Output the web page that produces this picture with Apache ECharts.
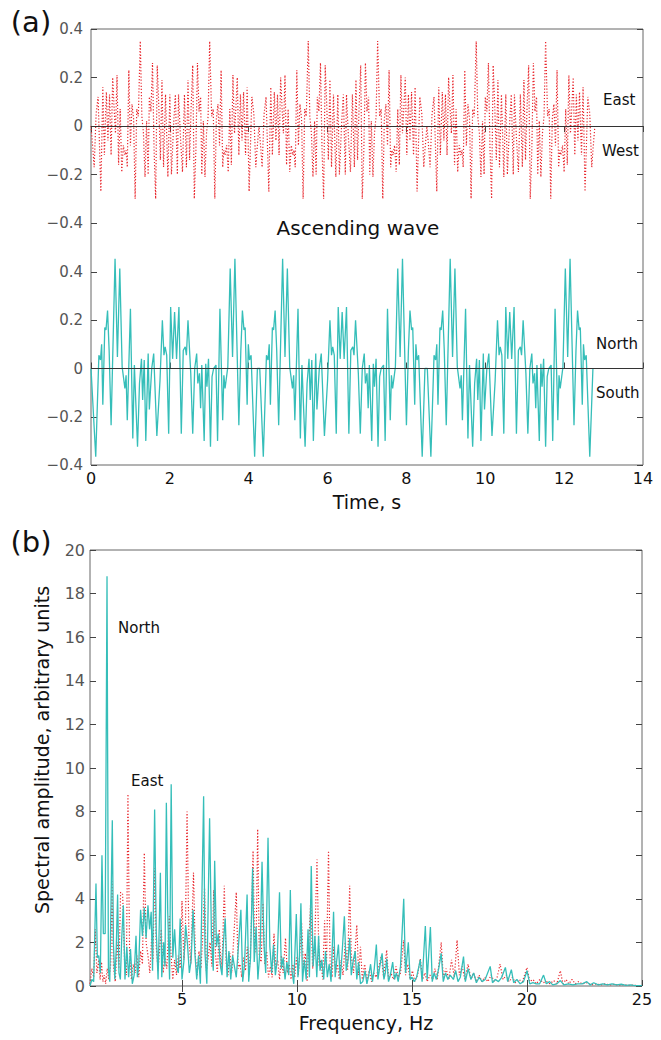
<!DOCTYPE html>
<html>
<head>
<meta charset="utf-8">
<script src="https://cdn.jsdelivr.net/npm/echarts@6/dist/echarts.min.js"></script>
<style>html,body{margin:0;padding:0;background:#fff}#chart{width:661px;height:1040px}</style>
</head>
<body>
<div id="chart"></div>
<script>
// ---------- DATA ----------
// (a) East–West component, time (s) vs value
const eastWestWave = [
[0,0],[0.05,-0.10],[0.08,-0.17],[0.13,0.05],[0.18,0.12],[0.21,-0.05],[0.25,-0.27],[0.30,0.16],[0.34,-0.12],[0.39,0.14],[0.43,-0.06],[0.47,0.13],[0.51,-0.12],[0.55,0.20],[0.59,0.06],[0.62,-0.03],[0.66,0.21],[0.70,-0.16],[0.74,0.07],[0.78,-0.19],[0.82,-0.08],[0.86,-0.12],[0.89,-0.10],[0.92,-0.17],[0.96,0.23],[1.00,-0.08],[1.04,0.09],[1.08,0.03],[1.12,-0.30],[1.16,0.07],[1.20,0.04],[1.25,0.35],[1.29,0.04],[1.33,-0.03],[1.37,-0.21],[1.41,0.02],[1.45,-0.20],[1.48,0.12],[1.52,0.06],[1.56,0.26],[1.60,-0.10],[1.64,-0.30],[1.68,0.25],[1.72,0.08],[1.76,-0.14],[1.80,0.19],[1.84,-0.17],[1.89,0.13],[1.95,-0.21],[2.00,0.13],[2.04,-0.20],[2.10,0.02],[2.14,0.13],[2.19,-0.20],[2.22,0.13],[2.27,-0.05],[2.32,-0.19],[2.37,0.13],[2.42,-0.17],[2.46,0.19],[2.50,-0.14],[2.54,0.08],[2.58,0.25],[2.62,-0.30],[2.66,-0.10],[2.70,0.26],[2.74,0.06],[2.78,0.12],[2.81,-0.20],[2.85,0.02],[2.89,-0.21],[2.93,-0.03],[2.97,0.04],[3.01,0.35],[3.06,0.04],[3.10,0.07],[3.14,-0.30],[3.18,0.03],[3.22,0.09],[3.26,-0.08],[3.30,0.23],[3.34,-0.17],[3.37,-0.10],[3.40,-0.12],[3.44,-0.08],[3.48,-0.19],[3.52,0.07],[3.56,-0.16],[3.60,0.21],[3.64,-0.03],[3.67,0.06],[3.71,0.20],[3.75,-0.12],[3.79,0.13],[3.83,-0.06],[3.87,0.14],[3.92,-0.12],[3.96,0.16],[4.01,-0.27],[4.05,-0.05],[4.08,0.12],[4.13,0.05],[4.18,-0.17],[4.21,-0.10],[4.26,0],
[4.31,-0.10],[4.34,-0.17],[4.39,0.05],[4.44,0.12],[4.47,-0.05],[4.51,-0.27],[4.56,0.16],[4.60,-0.12],[4.65,0.14],[4.69,-0.06],[4.73,0.13],[4.77,-0.12],[4.81,0.20],[4.85,0.06],[4.88,-0.03],[4.92,0.21],[4.96,-0.16],[5.00,0.07],[5.04,-0.19],[5.08,-0.08],[5.12,-0.12],[5.15,-0.10],[5.18,-0.17],[5.22,0.23],[5.26,-0.08],[5.30,0.09],[5.34,0.03],[5.38,-0.30],[5.42,0.07],[5.46,0.04],[5.51,0.35],[5.55,0.04],[5.59,-0.03],[5.63,-0.21],[5.67,0.02],[5.71,-0.20],[5.74,0.12],[5.78,0.06],[5.82,0.26],[5.86,-0.10],[5.90,-0.30],[5.94,0.25],[5.98,0.08],[6.02,-0.14],[6.06,0.19],[6.10,-0.17],[6.15,0.13],[6.21,-0.21],[6.26,0.13],[6.30,-0.20],[6.36,0.02],[6.40,0.13],[6.45,-0.20],[6.48,0.13],[6.53,-0.05],[6.58,-0.19],[6.63,0.13],[6.68,-0.17],[6.72,0.19],[6.76,-0.14],[6.80,0.08],[6.84,0.25],[6.88,-0.30],[6.92,-0.10],[6.96,0.26],[7.00,0.06],[7.04,0.12],[7.07,-0.20],[7.11,0.02],[7.15,-0.21],[7.19,-0.03],[7.23,0.04],[7.27,0.35],[7.32,0.04],[7.36,0.07],[7.40,-0.30],[7.44,0.03],[7.48,0.09],[7.52,-0.08],[7.56,0.23],[7.60,-0.17],[7.63,-0.10],[7.66,-0.12],[7.70,-0.08],[7.74,-0.19],[7.78,0.07],[7.82,-0.16],[7.86,0.21],[7.90,-0.03],[7.93,0.06],[7.97,0.20],[8.01,-0.12],[8.05,0.13],[8.09,-0.06],[8.13,0.14],[8.18,-0.12],[8.22,0.16],[8.27,-0.27],[8.31,-0.05],[8.34,0.12],[8.39,0.05],[8.44,-0.17],[8.47,-0.10],[8.52,0],
[8.57,-0.10],[8.60,-0.17],[8.65,0.05],[8.70,0.12],[8.73,-0.05],[8.77,-0.27],[8.82,0.16],[8.86,-0.12],[8.91,0.14],[8.95,-0.06],[8.99,0.13],[9.03,-0.12],[9.07,0.20],[9.11,0.06],[9.14,-0.03],[9.18,0.21],[9.22,-0.16],[9.26,0.07],[9.30,-0.19],[9.34,-0.08],[9.38,-0.12],[9.41,-0.10],[9.44,-0.17],[9.48,0.23],[9.52,-0.08],[9.56,0.09],[9.60,0.03],[9.64,-0.30],[9.68,0.07],[9.72,0.04],[9.77,0.35],[9.81,0.04],[9.85,-0.03],[9.89,-0.21],[9.93,0.02],[9.97,-0.20],[10.00,0.12],[10.04,0.06],[10.08,0.26],[10.12,-0.10],[10.16,-0.30],[10.20,0.25],[10.24,0.08],[10.28,-0.14],[10.32,0.19],[10.36,-0.17],[10.41,0.13],[10.47,-0.21],[10.52,0.13],[10.56,-0.20],[10.62,0.02],[10.66,0.13],[10.71,-0.20],[10.74,0.13],[10.79,-0.05],[10.84,-0.19],[10.89,0.13],[10.94,-0.17],[10.98,0.19],[11.02,-0.14],[11.06,0.08],[11.10,0.25],[11.14,-0.30],[11.18,-0.10],[11.22,0.26],[11.26,0.06],[11.30,0.12],[11.33,-0.20],[11.37,0.02],[11.41,-0.21],[11.45,-0.03],[11.49,0.04],[11.53,0.35],[11.58,0.04],[11.62,0.07],[11.66,-0.30],[11.70,0.03],[11.74,0.09],[11.78,-0.08],[11.82,0.23],[11.86,-0.17],[11.89,-0.10],[11.92,-0.12],[11.96,-0.08],[12.00,-0.19],[12.04,0.07],[12.08,-0.16],[12.12,0.21],[12.16,-0.03],[12.19,0.06],[12.23,0.20],[12.27,-0.12],[12.31,0.13],[12.35,-0.06],[12.39,0.14],[12.44,-0.12],[12.48,0.16],[12.53,-0.27],[12.57,-0.05],[12.60,0.12],[12.65,0.05],[12.70,-0.17],[12.73,-0.10],[12.78,0]
];

// (a) North–South component, time (s) vs value
const northSouthWave = [
[0,0],[0.12,-0.366],[0.2,0.055],[0.24,0.035],[0.27,0.1],[0.3,-0.15],[0.35,0.17],[0.38,0.16],[0.42,0.24],[0.46,0.075],[0.51,-0.235],[0.61,0.455],[0.67,0.048],[0.73,0.414],[0.79,0.007],[0.86,-0.083],[0.89,-0.028],[0.92,-0.214],[1.0,0.248],[1.06,-0.29],[1.1,0.014],[1.18,-0.324],[1.23,-0.062],[1.28,0.04],[1.31,-0.13],[1.35,0.035],[1.39,-0.3],[1.45,0.062],[1.48,-0.17],[1.54,0],[1.59,0.062],[1.67,-0.28],[1.75,-0.05],[1.81,0.2],[1.85,0.055],[1.88,0.09],[1.92,0.055],[1.97,-0.27],[2.02,0.255],[2.07,0.04],[2.12,0.234],[2.17,0.04],[2.23,0.255],[2.29,-0.27],[2.34,0.075],[2.39,0.09],[2.42,0.055],[2.46,0.2],[2.53,-0.02],[2.58,-0.27],[2.63,0],[2.68,0.062],[2.71,-0.062],[2.75,-0.02],[2.78,-0.165],[2.81,0.014],[2.87,-0.3],[2.91,0.02],[2.94,-0.076],[2.98,0.04],[3.03,-0.324],[3.07,-0.034],[3.11,0],[3.17,0.014],[3.21,-0.3],[3.27,0.248],[3.34,-0.214],[3.37,-0.028],[3.4,-0.083],[3.47,0.007],[3.53,0.414],[3.59,0.048],[3.65,0.455],[3.75,-0.235],[3.8,0.075],[3.84,0.24],[3.88,0.16],[3.91,0.17],[3.96,-0.15],[3.99,0.1],[4.02,0.035],[4.06,0.055],[4.15,-0.366],[4.22,0],[4.28,0],
[4.37,-0.366],[4.45,0.055],[4.49,0.035],[4.52,0.1],[4.55,-0.15],[4.6,0.17],[4.63,0.16],[4.67,0.24],[4.71,0.075],[4.76,-0.235],[4.86,0.455],[4.92,0.048],[4.98,0.414],[5.04,0.007],[5.11,-0.083],[5.14,-0.028],[5.17,-0.214],[5.25,0.248],[5.31,-0.29],[5.35,0.014],[5.43,-0.324],[5.48,-0.062],[5.53,0.04],[5.56,-0.13],[5.6,0.035],[5.64,-0.3],[5.7,0.062],[5.73,-0.17],[5.79,0],[5.84,0.062],[5.92,-0.28],[6.0,-0.05],[6.06,0.2],[6.1,0.055],[6.13,0.09],[6.17,0.055],[6.22,-0.27],[6.27,0.255],[6.32,0.04],[6.37,0.234],[6.42,0.04],[6.48,0.255],[6.54,-0.27],[6.59,0.075],[6.64,0.09],[6.67,0.055],[6.71,0.2],[6.78,-0.02],[6.83,-0.27],[6.88,0],[6.93,0.062],[6.96,-0.062],[7.0,-0.02],[7.03,-0.165],[7.06,0.014],[7.12,-0.3],[7.16,0.02],[7.19,-0.076],[7.23,0.04],[7.28,-0.324],[7.32,-0.034],[7.36,0],[7.42,0.014],[7.46,-0.3],[7.52,0.248],[7.59,-0.214],[7.62,-0.028],[7.65,-0.083],[7.72,0.007],[7.78,0.414],[7.84,0.048],[7.9,0.455],[8.0,-0.235],[8.05,0.075],[8.09,0.24],[8.13,0.16],[8.16,0.17],[8.21,-0.15],[8.24,0.1],[8.27,0.035],[8.31,0.055],[8.4,-0.366],[8.47,0],[8.53,0],
[8.62,-0.366],[8.7,0.055],[8.74,0.035],[8.77,0.1],[8.8,-0.15],[8.85,0.17],[8.88,0.16],[8.92,0.24],[8.96,0.075],[9.01,-0.235],[9.11,0.455],[9.17,0.048],[9.23,0.414],[9.29,0.007],[9.36,-0.083],[9.39,-0.028],[9.42,-0.214],[9.5,0.248],[9.56,-0.29],[9.6,0.014],[9.68,-0.324],[9.73,-0.062],[9.78,0.04],[9.81,-0.13],[9.85,0.035],[9.89,-0.3],[9.95,0.062],[9.98,-0.17],[10.04,0],[10.09,0.062],[10.17,-0.28],[10.25,-0.05],[10.31,0.2],[10.35,0.055],[10.38,0.09],[10.42,0.055],[10.47,-0.27],[10.52,0.255],[10.57,0.04],[10.62,0.234],[10.67,0.04],[10.73,0.255],[10.79,-0.27],[10.84,0.075],[10.89,0.09],[10.92,0.055],[10.96,0.2],[11.03,-0.02],[11.08,-0.27],[11.13,0],[11.18,0.062],[11.21,-0.062],[11.25,-0.02],[11.28,-0.165],[11.31,0.014],[11.37,-0.3],[11.41,0.02],[11.44,-0.076],[11.48,0.04],[11.53,-0.324],[11.57,-0.034],[11.61,0],[11.67,0.014],[11.71,-0.3],[11.77,0.248],[11.84,-0.214],[11.87,-0.028],[11.9,-0.083],[11.97,0.007],[12.03,0.414],[12.09,0.048],[12.15,0.455],[12.25,-0.235],[12.3,0.075],[12.34,0.24],[12.38,0.16],[12.41,0.17],[12.46,-0.15],[12.49,0.1],[12.52,0.035],[12.56,0.055],[12.65,-0.366],[12.73,0]
];

// (b) East spectrum, frequency (Hz) vs amplitude
const eastSpectrum = [
[1.0,0.1],[1.08,0.8],[1.16,0.4],[1.23,2.6],[1.3,0.6],[1.38,1.2],[1.44,0.3],[1.5,1.1],[1.56,0.2],[1.62,0.5],[1.68,0.1],[1.75,0.8],[1.82,0.3],[1.9,1.0],[1.96,4.8],[2.02,0.9],[2.1,0.2],[2.18,2.0],[2.26,0.8],[2.33,4.3],[2.42,4.2],[2.5,1.2],[2.58,0.5],[2.65,8.8],[2.72,1.6],[2.8,0.3],[2.88,1.0],[2.96,0.6],[3.04,1.4],[3.12,0.4],[3.2,1.6],[3.28,1.0],[3.36,6.1],[3.44,2.0],[3.52,1.4],[3.6,0.6],[3.68,2.2],[3.74,1.2],[3.81,5.4],[3.88,1.8],[3.96,0.7],[4.04,1.9],[4.1,2.6],[4.18,0.6],[4.26,1.3],[4.34,0.8],[4.45,3.2],[4.52,1.5],[4.6,0.3],[4.68,1.2],[4.76,0.5],[4.84,1.4],[4.92,0.8],[5.0,3.9],[5.08,1.2],[5.14,2.0],[5.22,8.0],[5.3,2.2],[5.38,1.0],[5.5,5.2],[5.58,1.4],[5.66,0.5],[5.74,1.6],[5.82,0.8],[5.9,2.2],[5.98,4.5],[6.06,0.7],[6.14,1.3],[6.22,2.0],[6.3,0.9],[6.38,4.4],[6.46,1.4],[6.54,0.6],[6.62,2.6],[6.7,0.8],[6.76,1.6],[6.84,4.6],[6.92,1.0],[7.0,0.5],[7.08,1.5],[7.16,0.6],[7.24,2.0],[7.36,4.3],[7.44,0.8],[7.52,1.0],[7.6,0.4],[7.68,1.3],[7.76,0.7],[7.84,1.8],[7.92,0.5],[8.0,2.2],[8.09,6.2],[8.16,1.5],[8.22,1.8],[8.29,7.2],[8.36,1.4],[8.44,1.1],[8.52,3.8],[8.6,1.0],[8.68,1.6],[8.76,0.4],[8.84,0.9],[8.92,0.4],[9.0,2.4],[9.08,0.8],[9.16,1.2],[9.24,0.3],[9.32,1.4],[9.4,0.6],[9.5,2.2],[9.58,0.6],[9.66,1.0],[9.74,0.3],[9.82,1.0],[9.9,0.4],[9.98,1.3],[10.06,0.5],[10.2,2.9],[10.28,0.8],[10.36,1.5],[10.44,0.2],[10.6,4.0],[10.68,0.8],[10.76,1.6],[10.87,5.8],[10.96,0.9],[11.04,1.2],[11.12,0.3],[11.2,3.0],[11.28,0.8],[11.37,6.2],[11.44,1.0],[11.52,0.4],[11.6,1.8],[11.68,0.6],[11.76,1.0],[11.84,0.3],[11.92,1.2],[12.0,0.5],[12.1,2.0],[12.2,0.7],[12.29,4.6],[12.36,1.4],[12.46,0.6],[12.6,2.8],[12.68,0.5],[12.76,1.8],[12.84,0.3],[12.94,1.0],[13.04,0.3],[13.14,0.7],[13.24,0.2],[13.34,0.6],[13.44,0.4],[13.54,0.8],[13.67,1.4],[13.76,0.4],[13.9,1.65],[13.98,0.3],[14.08,0.6],[14.2,0.3],[14.3,0.9],[14.4,0.4],[14.5,0.6],[14.64,2.1],[14.72,0.5],[14.82,1.0],[14.92,0.3],[15.02,0.7],[15.12,0.2],[15.24,0.5],[15.36,1.25],[15.46,0.3],[15.56,0.6],[15.66,0.2],[15.78,0.5],[15.9,0.3],[16.0,0.8],[16.1,0.3],[16.27,2.0],[16.36,0.4],[16.48,0.8],[16.6,0.3],[16.72,1.2],[16.84,0.4],[16.96,2.1],[17.06,0.5],[17.18,0.9],[17.3,0.3],[17.44,1.0],[17.56,0.3],[17.68,0.6],[17.8,0.2],[17.92,0.5],[18.04,0.2],[18.16,0.4],[18.3,0.2],[18.44,0.5],[18.58,0.2],[18.7,0.4],[18.83,1.0],[18.96,0.3],[19.1,0.5],[19.22,0.2],[19.36,0.4],[19.5,0.15],[19.64,0.3],[19.8,0.2],[20.0,0.85],[20.12,0.2],[20.26,0.3],[20.4,0.1],[20.56,0.3],[20.7,0.15],[20.86,0.2],[21.0,0.1],[21.16,0.25],[21.3,0.1],[21.45,0.7],[21.56,0.1],[21.7,0.3],[21.82,0.1],[21.96,0.3],[22.1,0.1],[22.24,0.2],[22.4,0.1],[22.6,0.15],[22.8,0.05],[23.0,0.1],[23.2,0.05],[23.4,0.1],[23.6,0.05],[23.8,0.08],[24.0,0.04],[24.2,0.06],[24.4,0.03],[24.6,0.04],[24.8,0.02],[25.0,0.02]
];

// (b) North spectrum, frequency (Hz) vs amplitude
const northSpectrum = [
[1.0,0.0],[1.08,0.3],[1.16,0.2],[1.26,4.7],[1.32,1.3],[1.38,1.4],[1.45,0.6],[1.52,6.0],[1.58,2.4],[1.66,2.4],[1.74,18.8],[1.8,0.8],[1.86,0.2],[1.97,7.6],[2.02,1.9],[2.08,0.3],[2.14,1.7],[2.2,4.2],[2.26,0.6],[2.32,0.3],[2.38,2.2],[2.45,3.7],[2.52,0.3],[2.6,1.8],[2.68,0.4],[2.76,1.7],[2.84,0.1],[2.92,0.5],[3.0,2.3],[3.06,0.4],[3.12,1.0],[3.2,3.5],[3.28,2.3],[3.36,3.6],[3.44,2.2],[3.52,3.7],[3.59,2.6],[3.66,3.4],[3.72,0.7],[3.81,8.1],[3.88,2.5],[3.96,0.3],[4.06,5.2],[4.12,0.4],[4.2,2.0],[4.26,0.9],[4.32,8.4],[4.38,3.4],[4.46,0.3],[4.53,9.25],[4.6,1.3],[4.68,2.6],[4.76,0.9],[4.84,0.6],[4.92,3.1],[5.0,0.3],[5.08,1.1],[5.16,2.8],[5.24,1.9],[5.32,0.6],[5.4,1.2],[5.48,3.5],[5.56,1.5],[5.64,0.3],[5.72,1.4],[5.8,0.1],[5.94,8.7],[6.0,1.5],[6.08,0.1],[6.2,7.7],[6.28,2.3],[6.36,0.7],[6.42,5.75],[6.5,1.8],[6.58,2.4],[6.66,1.0],[6.74,0.5],[6.8,2.0],[6.88,3.1],[6.96,0.4],[7.04,1.6],[7.12,0.3],[7.2,1.4],[7.28,0.9],[7.36,0.4],[7.44,1.6],[7.56,3.5],[7.64,0.2],[7.72,1.0],[7.83,4.2],[7.9,0.2],[7.98,1.3],[8.07,5.4],[8.14,1.1],[8.22,2.7],[8.3,0.3],[8.4,1.8],[8.48,5.7],[8.56,2.0],[8.64,0.6],[8.74,6.8],[8.82,1.8],[8.9,0.6],[8.98,1.9],[9.06,0.5],[9.14,1.2],[9.24,4.3],[9.32,0.8],[9.4,1.3],[9.48,0.3],[9.56,1.1],[9.64,0.5],[9.71,4.4],[9.78,0.7],[9.86,0.1],[9.97,3.3],[10.04,0.4],[10.1,1.2],[10.17,3.8],[10.24,0.2],[10.32,1.2],[10.4,0.3],[10.48,2.6],[10.54,0.4],[10.62,5.5],[10.7,0.9],[10.78,2.3],[10.86,0.4],[10.94,2.3],[11.0,0.7],[11.08,1.2],[11.16,0.3],[11.24,1.6],[11.32,0.4],[11.4,1.0],[11.48,0.2],[11.59,3.4],[11.66,0.4],[11.72,1.1],[11.8,1.9],[11.88,0.3],[11.96,1.5],[12.06,3.2],[12.14,0.7],[12.22,1.2],[12.29,2.2],[12.36,0.5],[12.45,1.2],[12.53,1.6],[12.6,0.3],[12.68,1.1],[12.76,0.1],[12.86,0.2],[12.96,0.7],[13.04,0.1],[13.12,0.5],[13.2,1.0],[13.28,0.2],[13.36,0.8],[13.45,1.9],[13.52,0.3],[13.6,0.9],[13.7,1.5],[13.78,0.3],[13.84,0.6],[13.9,1.25],[13.98,0.2],[14.06,0.5],[14.16,1.1],[14.24,0.3],[14.32,0.6],[14.4,0.2],[14.5,0.9],[14.64,4.0],[14.72,0.6],[14.84,2.0],[14.92,0.3],[15.0,0.4],[15.1,0.2],[15.2,0.4],[15.36,1.2],[15.44,0.2],[15.58,2.75],[15.66,0.3],[15.8,2.7],[15.88,0.2],[15.96,0.6],[16.06,0.3],[16.16,0.8],[16.27,1.5],[16.36,0.2],[16.46,0.6],[16.56,0.3],[16.66,0.5],[16.8,0.3],[16.9,0.7],[17.0,0.2],[17.1,0.4],[17.24,1.35],[17.32,0.2],[17.44,0.8],[17.56,0.3],[17.68,0.6],[17.8,0.15],[17.92,0.4],[18.05,0.2],[18.18,0.3],[18.4,0.9],[18.5,0.15],[18.62,0.3],[18.76,0.2],[18.9,0.4],[19.06,0.85],[19.16,0.2],[19.32,0.75],[19.42,0.15],[19.56,0.3],[19.7,0.1],[19.85,0.2],[20.0,0.7],[20.12,0.1],[20.26,0.15],[20.4,0.1],[20.55,0.1],[20.72,0.5],[20.84,0.1],[20.98,0.2],[21.12,0.05],[21.3,0.1],[21.45,0.25],[21.6,0.05],[21.8,0.1],[22.0,0.05],[22.2,0.1],[22.4,0.1],[22.6,0.2],[22.75,0.05],[22.9,0.15],[23.1,0.05],[23.3,0.1],[23.5,0.05],[23.7,0.1],[23.9,0.05],[24.1,0.08],[24.3,0.03],[24.5,0.05],[24.7,0.02],[25.0,0.02]
];

// tick values
const freqTicks = [5, 10, 15, 20, 25];
const freqTopTicks = [5, 10, 15, 20];

// ---------- STYLE ----------
const FONT = 'DejaVu Sans';
const RED = '#E8262C';
const CYAN = '#35BEB9';
const TICK = '#444';
const FRAME = '#666';
const LABEL_GRAY = '#555';
const DOTS = [1.2, 1.9];

function signed(v) {
  const s = +(+v).toFixed(2);
  return s < 0 ? '\u2212' + (-s) : String(s);
}

const yTimeCommon = (gridIndex, pos) => ({
  gridIndex, type: 'value', min: -0.4, max: 0.4, interval: 0.2, position: pos,
  axisLine: { show: false },
  axisTick: { show: true, inside: true, length: 6, lineStyle: { color: TICK, width: 1 } },
  axisLabel: pos === 'left'
    ? { show: true, formatter: signed, fontFamily: FONT, fontSize: 15, color: LABEL_GRAY, margin: 8 }
    : { show: false },
  splitLine: { show: false }
});

const chart = echarts.init(document.getElementById('chart'), null, { renderer: 'svg', width: 661, height: 1040 });

const zeroLine = {
  silent: true, symbol: ['none', 'none'], animation: false,
  lineStyle: { color: '#333', width: 1, type: 'solid' },
  label: { show: false },
  data: [{ yAxis: 0 }]
};

const textStyle = (size) => ({ fontFamily: FONT, fontSize: size, fill: '#111' });

chart.setOption({
  animation: false,
  backgroundColor: '#fff',
  grid: [
    { left: 91, width: 552, top: 29, height: 194 },
    { left: 91, width: 552, top: 272, height: 193 },
    { left: 91, width: 552, top: 29, height: 436, show: true, borderColor: FRAME, borderWidth: 1, backgroundColor: 'transparent' },
    { left: 90, width: 552, top: 550, height: 436, show: true, borderColor: FRAME, borderWidth: 1, backgroundColor: 'transparent' }
  ],
  xAxis: [
    { gridIndex: 0, type: 'value', min: 0, max: 14, interval: 2, position: 'top',
      axisLine: { show: false }, axisTick: { show: true, inside: true, length: 6, lineStyle: { color: TICK } },
      axisLabel: { show: false }, splitLine: { show: false } },
    { gridIndex: 1, type: 'value', min: 0, max: 14, interval: 2, position: 'bottom',
      axisLine: { show: false }, axisTick: { show: true, inside: true, length: 6, lineStyle: { color: TICK } },
      axisLabel: { fontFamily: FONT, fontSize: 16, color: '#111', margin: 5 },
      splitLine: { show: false },
      name: 'Time, s', nameLocation: 'middle', nameGap: 27,
      nameTextStyle: { fontFamily: FONT, fontSize: 19, color: '#111', verticalAlign: 'top' } },
    { gridIndex: 2, type: 'value', min: 0, max: 1, show: false },
    { gridIndex: 3, type: 'value', min: 1, max: 25, position: 'bottom',
      axisLine: { show: false },
      axisTick: { show: true, inside: true, length: 6, customValues: freqTicks, lineStyle: { color: TICK } },
      axisLabel: { customValues: freqTicks, fontFamily: FONT, fontSize: 16, color: '#111', margin: 5 },
      splitLine: { show: false },
      name: 'Frequency, Hz', nameLocation: 'middle', nameGap: 27,
      nameTextStyle: { fontFamily: FONT, fontSize: 19, color: '#111', verticalAlign: 'top' } },
    { gridIndex: 3, type: 'value', min: 1, max: 25, position: 'top',
      axisLine: { show: false },
      axisTick: { show: true, inside: true, length: 6, customValues: freqTopTicks, lineStyle: { color: TICK } },
      axisLabel: { show: false }, splitLine: { show: false } }
  ],
  yAxis: [
    yTimeCommon(0, 'left'),
    yTimeCommon(0, 'right'),
    yTimeCommon(1, 'left'),
    yTimeCommon(1, 'right'),
    { gridIndex: 2, type: 'value', min: 0, max: 1, show: false },
    { gridIndex: 3, type: 'value', min: 0, max: 20, interval: 2, position: 'left',
      axisLine: { show: false }, axisTick: { show: true, inside: true, length: 6, lineStyle: { color: TICK } },
      axisLabel: { fontFamily: FONT, fontSize: 16, color: LABEL_GRAY, margin: 5 }, splitLine: { show: false } },
    { gridIndex: 3, type: 'value', min: 0, max: 20, interval: 2, position: 'right',
      axisLine: { show: false }, axisTick: { show: true, inside: true, length: 6, lineStyle: { color: TICK } },
      axisLabel: { show: false }, splitLine: { show: false } }
  ],
  series: [
    { name: 'East–West', type: 'line', xAxisIndex: 0, yAxisIndex: 0, data: eastWestWave,
      symbol: 'none', showSymbol: false, silent: true, clip: false,
      lineStyle: { color: RED, width: 1.2, type: DOTS },
      markLine: zeroLine, z: 2 },
    { name: 'North–South', type: 'line', xAxisIndex: 1, yAxisIndex: 2, data: northSouthWave,
      symbol: 'none', showSymbol: false, silent: true, clip: false,
      lineStyle: { color: CYAN, width: 1.3 },
      markLine: zeroLine, z: 2 },
    { name: 'East', type: 'line', xAxisIndex: 3, yAxisIndex: 5, data: eastSpectrum,
      symbol: 'none', showSymbol: false, silent: true,
      lineStyle: { color: RED, width: 1.2, type: DOTS }, z: 2 },
    { name: 'North', type: 'line', xAxisIndex: 3, yAxisIndex: 5, data: northSpectrum,
      symbol: 'none', showSymbol: false, silent: true,
      lineStyle: { color: CYAN, width: 1.3 }, z: 3 }
  ],
  graphic: [
    { type: 'text', x: 31, y: 22, style: Object.assign({ text: '(a)', align: 'center', verticalAlign: 'middle' }, textStyle(29)) },
    { type: 'text', x: 31, y: 542, style: Object.assign({ text: '(b)', align: 'center', verticalAlign: 'middle' }, textStyle(29)) },
    { type: 'text', x: 358, y: 228, style: Object.assign({ text: 'Ascending wave', align: 'center', verticalAlign: 'middle' }, textStyle(20)) },
    { type: 'text', x: 603, y: 100, style: Object.assign({ text: 'East', align: 'left', verticalAlign: 'middle' }, textStyle(15)) },
    { type: 'text', x: 602, y: 151, style: Object.assign({ text: 'West', align: 'left', verticalAlign: 'middle' }, textStyle(15)) },
    { type: 'text', x: 596, y: 344, style: Object.assign({ text: 'North', align: 'left', verticalAlign: 'middle' }, textStyle(15)) },
    { type: 'text', x: 596, y: 393, style: Object.assign({ text: 'South', align: 'left', verticalAlign: 'middle' }, textStyle(15)) },
    { type: 'text', x: 118, y: 628, style: Object.assign({ text: 'North', align: 'left', verticalAlign: 'middle' }, textStyle(15)) },
    { type: 'text', x: 131, y: 781, style: Object.assign({ text: 'East', align: 'left', verticalAlign: 'middle' }, textStyle(15)) },
    { type: 'text', x: 42, y: 750, rotation: Math.PI / 2,
      style: Object.assign({ text: 'Spectral amplitude, arbitrary units', align: 'center', verticalAlign: 'middle' }, textStyle(19)) }
  ]
});
</script>
</body>
</html>
